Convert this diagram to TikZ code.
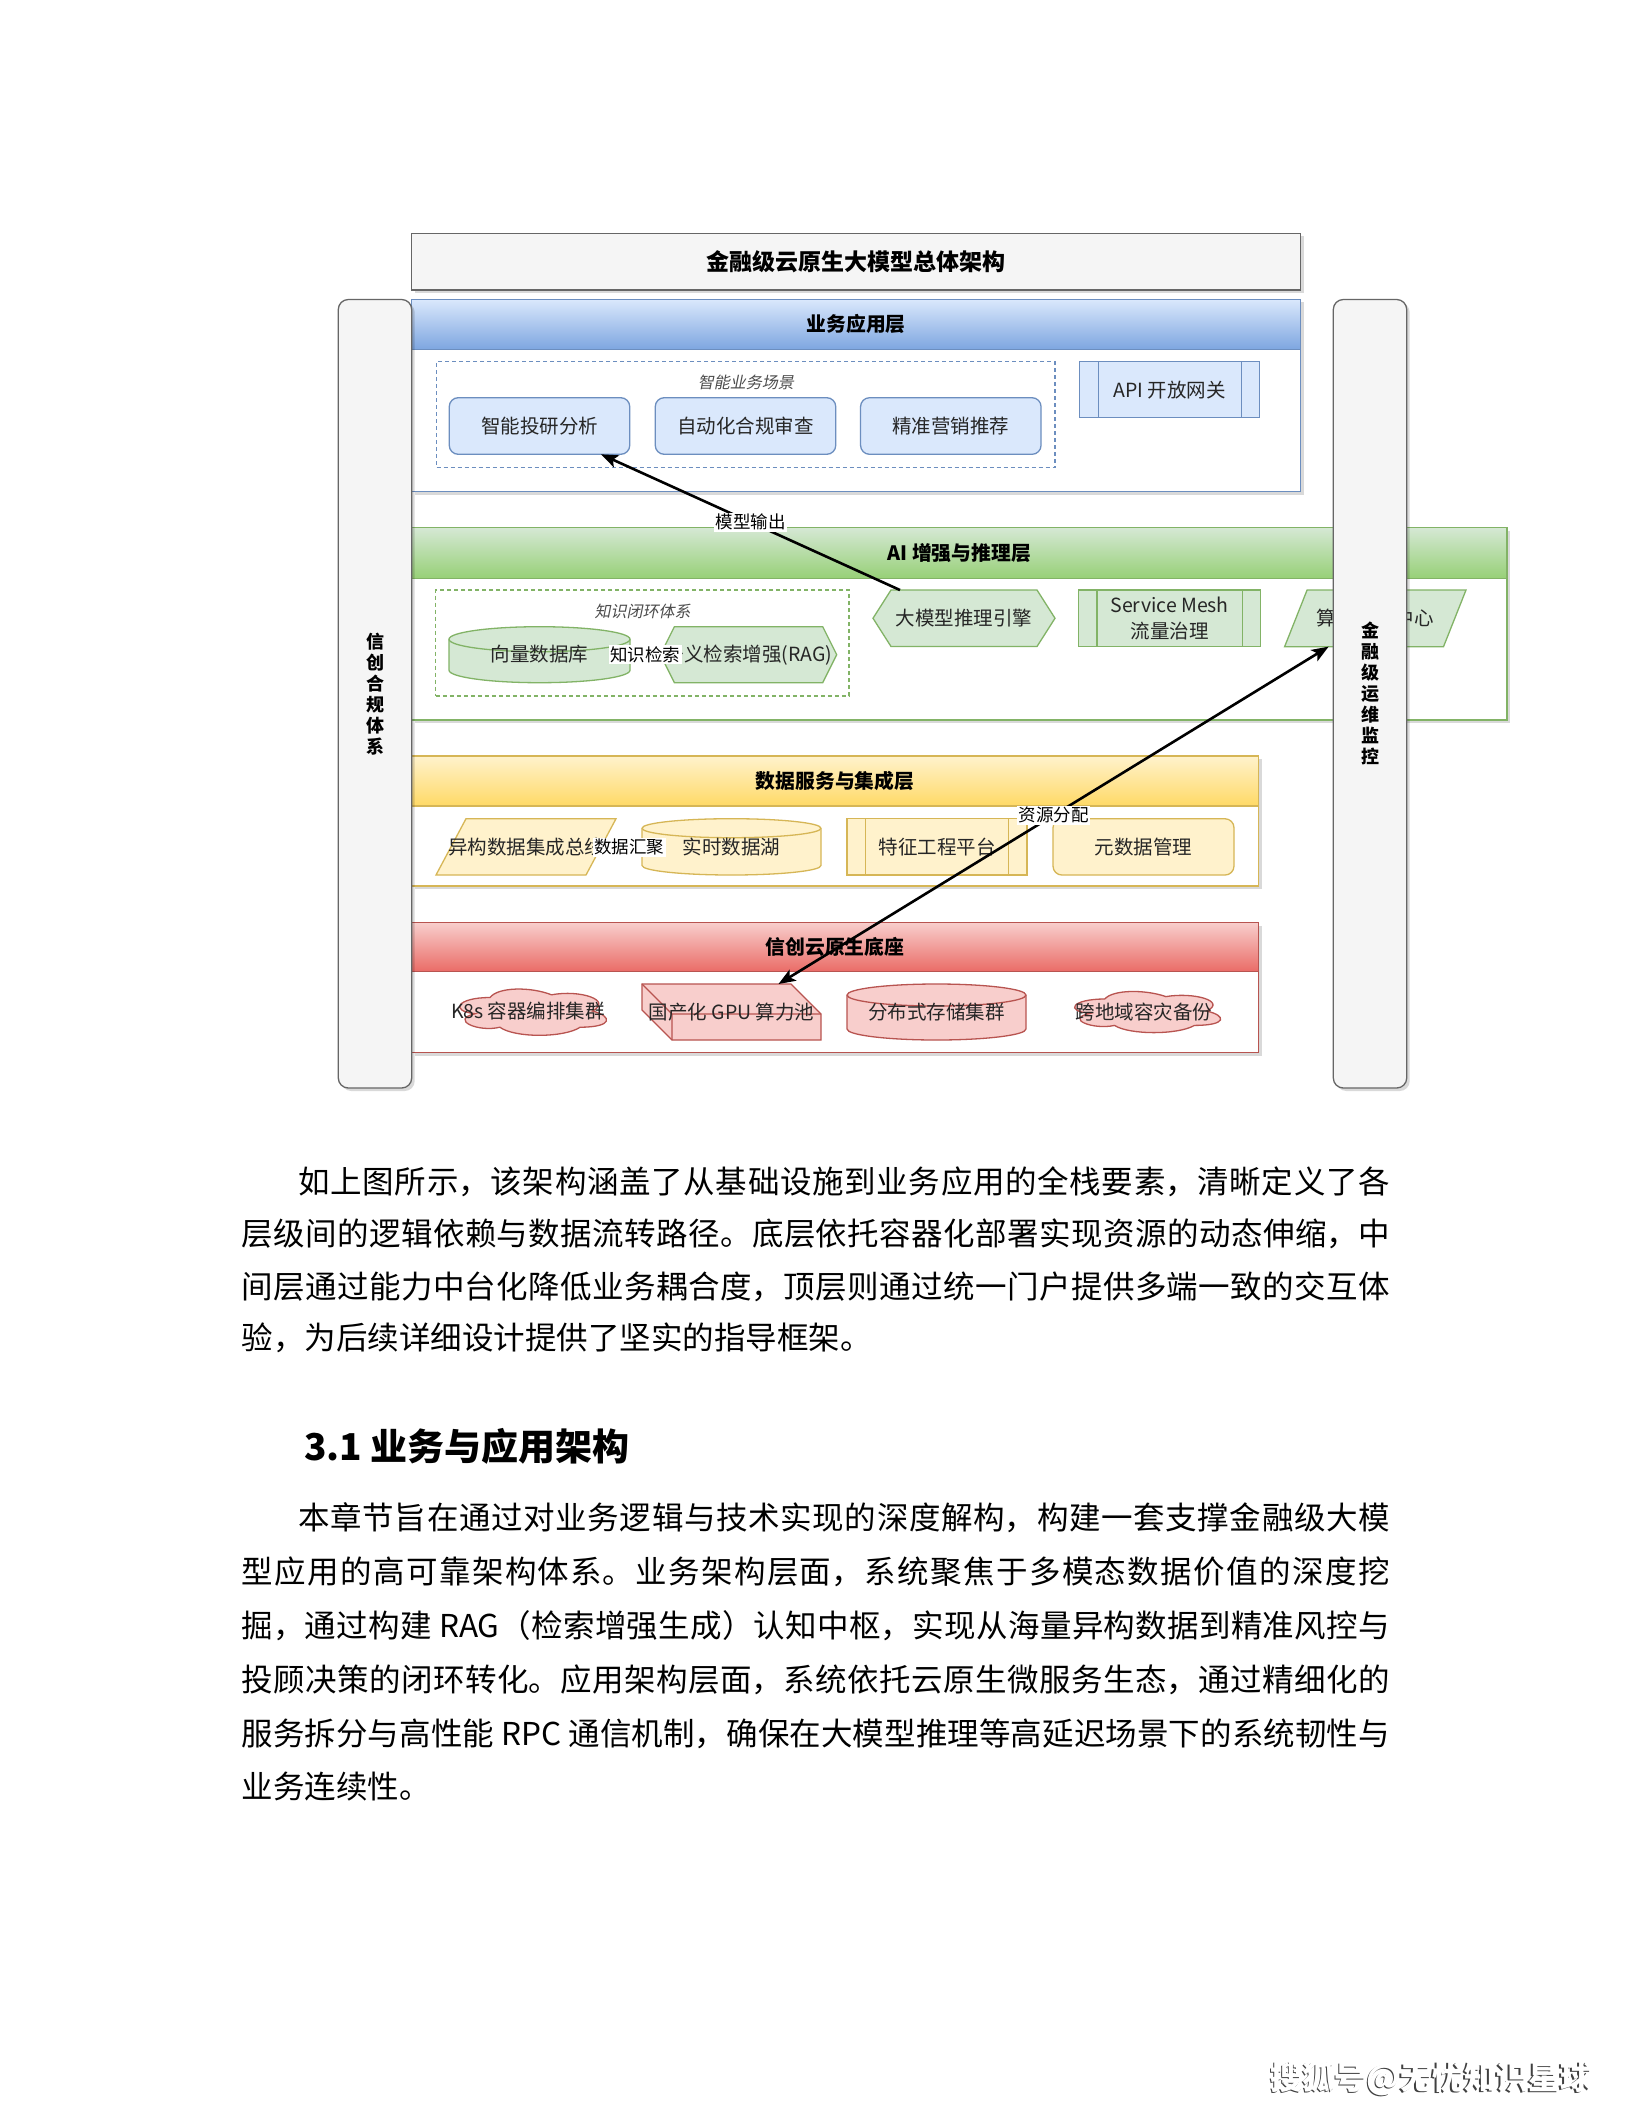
\documentclass[tikz,border=0pt]{standalone}
\usepackage{fontspec}
\setmainfont{Noto Sans CJK SC}
\newfontfamily\slantfont{Noto Sans CJK SC}[FakeSlant=0.2]
\usetikzlibrary{shapes.geometric,shadows,arrows.meta}
\definecolor{bF}{HTML}{DAE8FC}\definecolor{bD}{HTML}{6C8EBF}\definecolor{bK}{HTML}{7EA6E0}
\definecolor{gF}{HTML}{D5E8D4}\definecolor{gD}{HTML}{82B366}\definecolor{gK}{HTML}{97D077}
\definecolor{yF}{HTML}{FFF2CC}\definecolor{yD}{HTML}{D6B656}\definecolor{yK}{HTML}{FFD966}
\definecolor{rF}{HTML}{F8CECC}\definecolor{rD}{HTML}{B85450}\definecolor{rK}{HTML}{EA6B66}
\definecolor{kF}{HTML}{F5F5F5}\definecolor{kD}{HTML}{666666}
\newcommand\myfs[2]{\fontsize{#1}{#2}\selectfont}
\XeTeXlinebreaklocale "zh"
\XeTeXlinebreakskip=0pt plus 3pt
\newcommand\justline[2]{\parbox[t]{#1pt}{\parfillskip=0pt\relax #2}}
% shapes: x1 y1 x2 y2 size style
\newcommand\shCyl[6]{%
  \pgfmathsetmacro\cylrx{(#3-#1)/2}%
  \path[#6] (#1,#2+#5) -- (#1,#4-#5) arc[start angle=180,end angle=360,x radius=\cylrx pt,y radius=#5pt] -- (#3,#2+#5) arc[start angle=0,end angle=180,x radius=\cylrx pt,y radius=#5pt] -- cycle;
  \path[#6,fill=none] (#1,#2+#5) arc[start angle=180,end angle=360,x radius=\cylrx pt,y radius=#5pt];}
\newcommand\shHex[6]{%
  \path[#6] (#1,{(#2+#4)/2}) -- (#1+#5,#2) -- (#3-#5,#2) -- (#3,{(#2+#4)/2}) -- (#3-#5,#4) -- (#1+#5,#4) -- cycle;}
\newcommand\shPar[6]{%
  \path[#6] (#1+#5,#2) -- (#3,#2) -- (#3-#5,#4) -- (#1,#4) -- cycle;}
\newcommand\shProc[6]{%
  \path[#6] (#1,#2) rectangle (#3,#4);
  \path[#6,fill=none] (#1+#5,#2) -- (#1+#5,#4) (#3-#5,#2) -- (#3-#5,#4);}
\newcommand\shCube[6]{%
  \path[#6] (#1,#2) -- (#3-#5,#2) -- (#3,#2+#5) -- (#3,#4) -- (#1+#5,#4) -- (#1,#4-#5) -- cycle;
  \path[#6,fill=none] (#1,#2) -- (#1+#5,#2+#5) -- (#3,#2+#5) (#1+#5,#2+#5) -- (#1+#5,#4);}
% cloud: x y w h style
\newcommand\shCloud[5]{%
  \path[#5] ({#1+0.25*#3},{#2+0.25*#4})
   .. controls ({#1+0.05*#3},{#2+0.25*#4}) and ({#1},{#2+0.5*#4}) .. ({#1+0.16*#3},{#2+0.55*#4})
   .. controls ({#1},{#2+0.66*#4}) and ({#1+0.18*#3},{#2+0.9*#4}) .. ({#1+0.31*#3},{#2+0.8*#4})
   .. controls ({#1+0.4*#3},{#2+#4}) and ({#1+0.7*#3},{#2+#4}) .. ({#1+0.8*#3},{#2+0.8*#4})
   .. controls ({#1+#3},{#2+0.8*#4}) and ({#1+#3},{#2+0.6*#4}) .. ({#1+0.875*#3},{#2+0.5*#4})
   .. controls ({#1+#3},{#2+0.3*#4}) and ({#1+0.8*#3},{#2+0.1*#4}) .. ({#1+0.625*#3},{#2+0.2*#4})
   .. controls ({#1+0.5*#3},{#2+0.05*#4}) and ({#1+0.3*#3},{#2+0.05*#4}) .. ({#1+0.25*#3},{#2+0.25*#4}) -- cycle;}
\begin{document}
\begin{tikzpicture}[x=1pt,y=-1pt,
 every node/.style={inner sep=0pt,outer sep=0pt},
 lw/.style={line width=1.3pt},
 sh/.style={drop shadow={shadow xshift=3pt,shadow yshift=-3pt,opacity=0.15,fill=black}},
 layerbody/.style={lw,fill=white,sh,anchor=north west},
 layerhead/.style={lw,anchor=north west,font=\myfs{19.8}{23}\bfseries},
 grpbox/.style={lw,dash pattern=on 4pt off 3pt,anchor=north west},
 grplbl/.style={font=\slantfont\myfs{16}{19},text=black!70},
 holder/.style={font=\myfs{19.5}{23},text=black!85,align=center},
 tag/.style={font=\myfs{17.5}{20},fill=white,inner sep=1.5pt,text=black},
 conn/.style={line width=2.6pt,-{Stealth[length=17pt,width=13pt,inset=4pt]}},
 vbar/.style={draw=kD,fill=kF,lw,rounded corners=10pt,sh,anchor=north west,font=\myfs{18}{21}\bfseries,align=center},
 para/.style={anchor=base west,font=\myfs{31.5}{40}},
]
\fill[white] (0,0) rectangle (1632,2112);
\useasboundingbox (0,0) rectangle (1632,2112);

% title
\node[draw=kD,fill=kF,lw,sh,anchor=north west,minimum width=889pt,minimum height=56.7pt,font=\myfs{23}{27}\bfseries] (title) at (411.6,233.3) {金融级云原生大模型总体架构};

% business layer
\node[layerbody,draw=bD,minimum width=889pt,minimum height=192.4pt] (bizbody) at (411.6,299.3) {};
\node[layerhead,draw=bD,top color=bF,bottom color=bK,minimum width=889pt,minimum height=50pt] (bizhdr) at (411.6,299.3) {业务应用层};
\node[grpbox,draw=bD,minimum width=618.5pt,minimum height=105.6pt] (scene) at (436.5,361.7) {};
\node[grplbl] (scenelbl) at (745.8,382.7) {智能业务场景};
\node[holder,draw=bD,fill=bF,lw,rounded corners=9pt,minimum width=180.5pt,minimum height=56.6pt] (b1) at (539.5,426) {智能投研分析};
\node[holder,draw=bD,fill=bF,lw,rounded corners=9pt,minimum width=180.5pt,minimum height=56.6pt] (b2) at (745.5,426) {自动化合规审查};
\node[holder,draw=bD,fill=bF,lw,rounded corners=9pt,minimum width=180.5pt,minimum height=56.6pt] (b3) at (950.8,426) {精准营销推荐};
\node[holder,draw=bD,fill=bF,lw,minimum width=180.4pt,minimum height=56pt] (api) at (1169.6,389.7) {API 开放网关};
\draw[bD,lw] ([xshift=19pt]api.north west) -- ([xshift=19pt]api.south west) ([xshift=-18pt]api.north east) -- ([xshift=-18pt]api.south east);

% AI layer
\node[layerbody,draw=gD,minimum width=1095.4pt,minimum height=192.3pt] (aibody) at (411.6,527.7) {};
\node[layerhead,draw=gD,top color=gF,bottom color=gK,minimum width=1095.4pt,minimum height=50.6pt] (aihdr) at (411.6,527.7) {AI 增强与推理层};
\node[grpbox,draw=gD,minimum width=413.2pt,minimum height=106pt] (kgrp) at (435.8,590) {};
\node[grplbl] (kgrplbl) at (642.5,611) {知识闭环体系};
\shCyl{449}{626.7}{630}{682.7}{12.5}{fill=gF,draw=gD,lw}
\node[holder,minimum width=181pt,minimum height=56pt] (vdb) at (539.5,654.2) {向量数据库};
\shHex{660.4}{626.7}{836.7}{682.7}{14}{fill=gF,draw=gD,lw}
\node[holder,minimum width=176.3pt,minimum height=56pt] (rag) at (748.5,654.7) {语义检索增强(RAG)};
\shHex{873}{590}{1055}{646.5}{18}{fill=gF,draw=gD,lw}
\node[holder,minimum width=182pt,minimum height=56.5pt] (llm) at (964,618.3) {大模型推理引擎};
\shProc{1078.6}{590}{1260.7}{646.7}{18.5}{fill=gF,draw=gD,lw}
\node[holder,minimum width=182pt,minimum height=56.7pt,font=\myfs{19.5}{26}] (mesh) at (1169.6,618.3) {Service Mesh\\流量治理};
\shPar{1284.6}{590}{1466}{646.7}{22.5}{fill=gF,draw=gD,lw}
\node[holder,minimum width=181.4pt,minimum height=56.7pt] (sched) at (1375.3,618.3) {算力调度中心};

% data layer
\node[layerbody,draw=yD,minimum width=846.9pt,minimum height=130pt] (databody) at (411.6,756) {};
\node[layerhead,draw=yD,top color=yF,bottom color=yK,minimum width=846.9pt,minimum height=50pt] (datahdr) at (411.6,756) {数据服务与集成层};
\shPar{436}{818.7}{616}{875}{30}{fill=yF,draw=yD,lw}
\node[holder,minimum width=180pt,minimum height=56.3pt] (etl) at (526,846.9) {异构数据集成总线};
\shCyl{642}{818.7}{821}{875}{9.5}{fill=yF,draw=yD,lw}
\node[holder,minimum width=179pt,minimum height=56.3pt] (lake) at (731.5,847.5) {实时数据湖};
\shProc{847}{818.7}{1027}{875}{18.5}{fill=yF,draw=yD,lw}
\node[holder,minimum width=180pt,minimum height=56.3pt] (feat) at (937,846.9) {特征工程平台};
\node[holder,draw=yD,fill=yF,lw,rounded corners=9pt,minimum width=181pt,minimum height=56.3pt] (meta) at (1143.5,846.9) {元数据管理};

% base layer
\node[layerbody,draw=rD,minimum width=846.9pt,minimum height=130pt] (basebody) at (411.6,922.7) {};
\node[layerhead,draw=rD,top color=rF,bottom color=rK,minimum width=846.9pt,minimum height=49pt] (basehdr) at (411.6,922.7) {信创云原生底座};
\shCloud{449}{984}{164}{54}{fill=rF,draw=rD,lw}
\node[holder,minimum width=164pt,minimum height=50pt] (k8s) at (528,1011.5) {K8s 容器编排集群};
\shCube{642}{984}{821}{1040}{30}{fill=rF,draw=rD,lw}
\node[holder,minimum width=179pt,minimum height=56pt] (gpu) at (731.5,1012) {国产化 GPU 算力池};
\shCyl{847}{984}{1026}{1040}{11}{fill=rF,draw=rD,lw}
\node[holder,minimum width=179pt,minimum height=56pt] (store) at (936.5,1012) {分布式存储集群};
\shCloud{1064}{987}{163}{48}{fill=rF,draw=rD,lw}
\node[holder,minimum width=163pt,minimum height=44pt] (dr) at (1144,1012) {跨地域容灾备份};

% connectors
\draw[black!75,line width=1pt] (vdb.east) -- (rag.west) node[tag,midway] (kq) {知识检索};
\draw[black!75,line width=1pt] (etl.east) -- (lake.west) node[tag,midway] (agg) {数据汇聚};
\coordinate (llmtl) at ([xshift=-64pt]llm.north);
\coordinate (b1end) at ([xshift=61.5pt]b1.south);
\draw[conn] (llmtl) -- (b1end) node[tag,midway] (mo) {模型输出};
\coordinate (gputop) at ([xshift=47pt]gpu.north);
\coordinate (schedbot) at ([xshift=-46.7pt]sched.south);
\draw[conn,{Stealth[length=17pt,width=13pt,inset=4pt]}-{Stealth[length=17pt,width=13pt,inset=4pt]}] (gputop) -- (schedbot) node[tag,midway] (ra) {资源分配};

% side bars
\node[vbar,minimum width=73.4pt,minimum height=788.5pt] (lbar) at (338.3,299.5) {信\\创\\合\\规\\体\\系};
\node[vbar,minimum width=73.4pt,minimum height=788.5pt] (rbar) at (1333.3,299.5) {金\\融\\级\\运\\维\\监\\控};

% text
\node[para] (p1a) at (298.5,1193) {\justline{1091.5}{如上图所示，该架构涵盖了从基础设施到业务应用的全栈要素，清晰定义了各}};
\node[para] (p1b) at (241.5,1245) {\justline{1148.5}{层级间的逻辑依赖与数据流转路径。底层依托容器化部署实现资源的动态伸缩，中}};
\node[para] (p1c) at (241.5,1298) {\justline{1148.5}{间层通过能力中台化降低业务耦合度，顶层则通过统一门户提供多端一致的交互体}};
\node[para] (p1d) at (241.5,1349.5) {验，为后续详细设计提供了坚实的指导框架。};
\node[anchor=base west,font=\myfs{37}{42}\bfseries] (h31) at (304,1460) {3.1 业务与应用架构};
\node[para] (p2a) at (298.5,1529.5) {\justline{1091.5}{本章节旨在通过对业务逻辑与技术实现的深度解构，构建一套支撑金融级大模}};
\node[para] (p2b) at (241.5,1583) {\justline{1148.5}{型应用的高可靠架构体系。业务架构层面，系统聚焦于多模态数据价值的深度挖}};
\node[para] (p2c) at (241.5,1637) {\justline{1148.5}{掘，通过构建 RAG（检索增强生成）认知中枢，实现从海量异构数据到精准风控与}};
\node[para] (p2d) at (241.5,1691) {\justline{1148.5}{投顾决策的闭环转化。应用架构层面，系统依托云原生微服务生态，通过精细化的}};
\node[para] (p2e) at (241.5,1745) {\justline{1148.5}{服务拆分与高性能 RPC 通信机制，确保在大模型推理等高延迟场景下的系统韧性与}};
\node[para] (p2f) at (241.5,1798) {业务连续性。};

% footer mark
\node[anchor=base east,font=\myfs{32}{36}\bfseries,text=black!75] (wmsh) at (1590.8,2090.5) {搜狐号@无忧知识星球};
\node[anchor=base east,font=\myfs{32}{36}\bfseries,text=white] (wm) at (1592,2089.5) {搜狐号@无忧知识星球};
\end{tikzpicture}
\end{document}
